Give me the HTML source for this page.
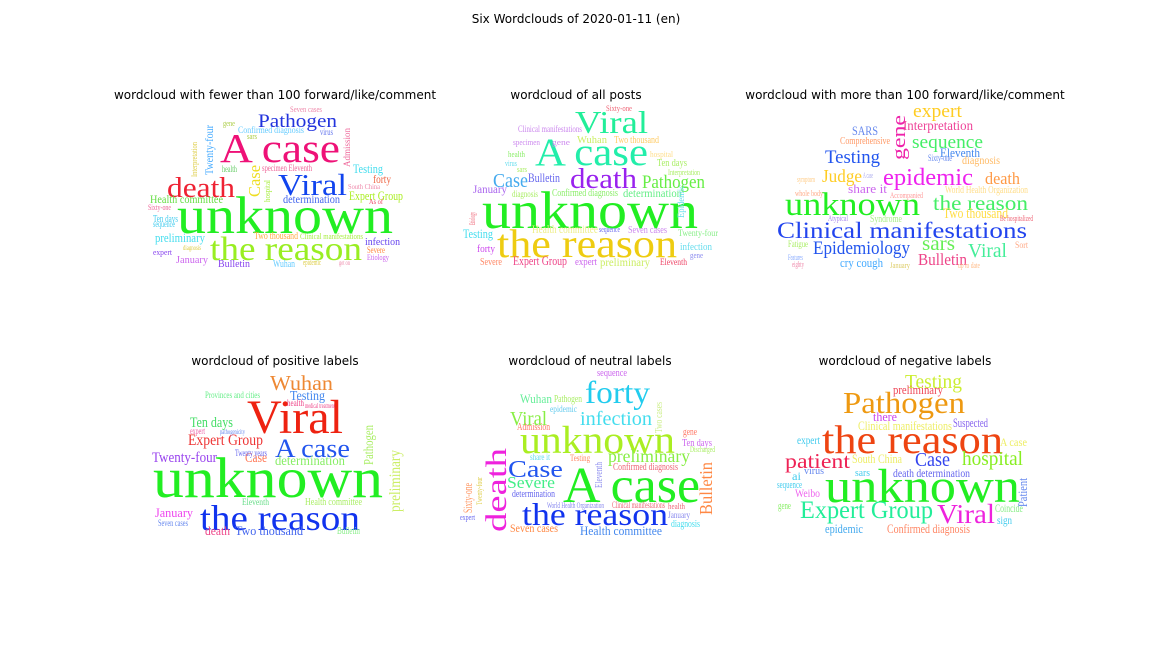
<!DOCTYPE html>
<html><head><meta charset="utf-8">
<style>
html,body{margin:0;padding:0;background:#fff;}
#wrap{position:relative;width:1152px;height:648px;overflow:hidden;}
svg text.w{font-family:"Liberation Serif",serif;}
svg text.t{font-family:"DejaVu Sans","Liberation Sans",sans-serif;font-size:12px;fill:#000;}
</style></head>
<body>
<div id="wrap">
<svg id="svg" width="1152" height="648" viewBox="0 0 1152 648">
<text class="t" x="576" y="23" text-anchor="middle">Six Wordclouds of 2020-01-11 (en)</text>
<text class="t" x="275" y="99" text-anchor="middle">wordcloud with fewer than 100 forward/like/comment</text>
<text class="t" x="576" y="99" text-anchor="middle">wordcloud of all posts</text>
<text class="t" x="905" y="99" text-anchor="middle">wordcloud with more than 100 forward/like/comment</text>
<text class="t" x="275" y="365" text-anchor="middle">wordcloud of positive labels</text>
<text class="t" x="590" y="365" text-anchor="middle">wordcloud of neutral labels</text>
<text class="t" x="905" y="365" text-anchor="middle">wordcloud of negative labels</text>
</svg>
</div>
<script>
// [text, x, baselineY, fontSize, color, width(0=auto), rotated]
const p1 = [
["unknown",177,233,58,"#22ee22",216,0],["the reason",210,260,37,"#99ee22",152,0],["A case",220,162,45,"#ee1177",120,0],
["death",167,197,31,"#ee2233",68,0],["Viral",278,195,33,"#1144ee",69,0],["Pathogen",258,127,21,"#2233dd",79,0],
["Case",260,197,17,"#eedd22",32,1],["Twenty-four",213,175,12,"#44aaff",50,1],["Testing",353,173,13,"#44ddee",30,0],
["forty",373,183,12,"#ee6644",18,0],["Expert Group",349,200,13,"#aaee22",54,0],["determination",283,203,12,"#4466ee",57,0],
["Health committee",150,203,12,"#66dd44",73,0],["preliminary",155,242,13,"#44ddee",50,0],["infection",365,245,11,"#6644ee",35,0],
["January",176,263,11,"#cc66ee",32,0],["Bulletin",218,267,11,"#8844ee",32,0],["Wuhan",273,267,11,"#66ccff",22,0],
["Two thousand",254,239,10,"#ffaa44",44,0],["Confirmed diagnosis",238,133,9,"#66ccff",66,0],["Seven cases",290,112,8,"#ee88aa",32,0],
["specimen Eleventh",262,171,9,"#ee6699",50,0],["Clinical manifestations",300,239,8,"#aaee44",63,0],["Ten days",153,222,10,"#44ccee",25,0],
["sequence",153,227,9,"#44ccee",22,0],["Sixty-one",148,210,8,"#ee6699",23,0],["expert",153,255,8,"#8844ee",19,0],
["Severe",367,253,9,"#ff8844",18,0],["Etiology",367,260,8,"#cc66ee",22,0],["epidemic",303,265,8,"#ddcc44",18,0],
["health",222,172,9,"#66cc66",15,0],["gene",223,126,8,"#aacc44",12,0],["virus",320,135,9,"#6677ee",13,0],
["sars",247,139,8,"#aacc44",10,0],["Admission",350,167,9,"#ee6699",39,1],["Interpretation",197,177,8,"#ddcc44",35,1],
["hospital",270,202,8,"#aaee44",22,1],["South China",348,189,7,"#ee88aa",32,0],["As of",369,204,7,"#ee4466",14,0],
["diagnosis",183,250,7,"#ddcc44",18,0],["get on",339,265,7,"#ee88aa",11,0]
];
const p2 = [
["unknown",482,228,58,"#22ee22",216,0],["the reason",497,257,44,"#eecc11",180,0],["A case",535,165,42,"#22eeaa",113,0],
["Viral",575,133,35,"#22ee99",73,0],["death",570,188,31,"#9922ee",67,0],["Pathogen",642,188,19,"#66ee44",63,0],
["Case",493,187,20,"#44aaee",35,0],["Bulletin",528,182,13,"#6666ee",32,0],["January",473,193,12,"#aa66ee",34,0],
["Confirmed diagnosis",552,196,11,"#88ee66",66,0],["determination",623,197,12,"#66ee88",59,0],["diagnosis",512,197,9,"#aaee66",26,0],
["Health committee",532,233,12,"#eeee88",66,0],["sequence",599,232,8,"#6666ee",21,0],["Seven cases",628,233,10,"#cc88ee",39,0],
["Testing",463,238,13,"#44ddee",30,0],["forty",477,252,11,"#cc44ee",18,0],["Severe",480,265,10,"#ff8866",22,0],
["Expert Group",513,265,13,"#ee4488",54,0],["expert",575,265,10,"#cc66ee",22,0],["preliminary",600,266,12,"#ccee66",50,0],
["Eleventh",660,265,9,"#ee4466",27,0],["Two thousand",614,143,10,"#ffcc66",45,0],["Wuhan",577,143,11,"#ccee66",30,0],
["Clinical manifestations",518,132,9,"#cc88ee",64,0],["Sixty-one",606,111,8,"#ee6677",26,0],["specimen",513,145,8,"#cc88ee",27,0],
["gene",552,145,8,"#cc88ee",18,0],["Ten days",657,166,10,"#aaee66",30,0],["Interpretation",668,175,8,"#aaee66",32,0],
["hospital",650,157,8,"#ffdd88",23,0],["health",508,157,8,"#88ee66",17,0],["virus",505,166,8,"#66ddee",12,0],
["sars",517,172,8,"#aaee66",10,0],["Etiology",475,225,8,"#ee6677",13,1],["Twenty-four",678,236,9,"#88ee88",40,0],
["infection",680,250,10,"#66ddee",32,0],["gene",690,258,8,"#8888ee",13,0],["Epidemic",684,218,9,"#66ddee",33,1]
];
const p3 = [
["Clinical manifestations",777,238,25,"#2244ee",250,0],["unknown",785,215,36,"#22ee22",135,0],["epidemic",883,185,26,"#ee22ee",90,0],
["the reason",933,210,23,"#44ee66",95,0],["Epidemiology",813,254,19,"#2255ee",97,0],["sars",922,250,22,"#66ee55",33,0],
["Viral",968,257,22,"#44ee99",39,0],["Bulletin",918,265,17,"#ee4488",49,0],["Testing",825,163,19,"#2255ee",55,0],
["sequence",912,148,19,"#44ee66",71,0],["gene",905,160,19,"#ee22aa",45,1],["expert",913,117,19,"#ffcc22",49,0],
["Interpretation",903,130,14,"#ee4499",70,0],["SARS",852,135,13,"#6688ee",26,0],["Eleventh",940,157,13,"#4488ee",40,0],
["diagnosis",962,164,12,"#ffbb66",38,0],["Judge",822,182,18,"#ffcc22",40,0],["share it",848,193,13,"#cc66ee",39,0],
["death",985,184,17,"#ff9944",35,0],["World Health Organization",945,193,10,"#ffdd88",83,0],["Two thousand",943,218,15,"#ffdd44",65,0],
["Syndrome",870,222,10,"#aaee88",32,0],["cry cough",840,267,13,"#44aaff",43,0],["Comprehensive",840,144,10,"#ff9966",50,0],
["Sixty-one",928,161,9,"#6688ee",24,0],["Accompanied",890,198,8,"#ff9999",33,0],["Atypical",828,221,8,"#aa88ee",20,0],
["Fatigue",788,247,9,"#aaee66",20,0],["Sort",1015,248,9,"#ffaa88",13,0],["January",890,268,8,"#ddcc66",20,0],
["up to date",958,268,8,"#ffbb88",22,0],["Features",788,260,8,"#88aaff",15,0],["eighty",792,267,8,"#ee88aa",12,0],
["symptom",797,182,8,"#ffcc88",18,0],["whole body",795,196,8,"#ffaa88",28,0],["Be hospitalized",1000,221,8,"#ee6677",33,0],
["A case",863,178,8,"#aaaaee",10,0]
];
const p4 = [
["unknown",153,497,62,"#22ee22",230,0],["the reason",200,530,39,"#1133ee",160,0],["Viral",247,433,52,"#ee2211",96,0],
["A case",275,457,29,"#2255ee",75,0],["Wuhan",270,390,23,"#ee8833",63,0],["Testing",290,400,14,"#4488ee",35,0],
["Ten days",190,427,15,"#44dd66",43,0],["Expert Group",188,445,16,"#ee3333",75,0],["Twenty-four",152,462,15,"#9944ee",65,0],
["Case",245,462,14,"#ff7755",22,0],["determination",275,465,14,"#88ee66",70,0],["Twenty years",235,456,9,"#6666ee",32,0],
["January",155,517,13,"#ee44ee",38,0],["Seven cases",158,526,9,"#6688ee",30,0],["death",205,535,13,"#ee4488",25,0],
["Two thousand",235,535,13,"#4466ee",68,0],["Health committee",305,505,11,"#aaee66",57,0],["Pathogen",373,465,14,"#aaee66",40,1],
["preliminary",400,512,16,"#ccee66",62,1],["Provinces and cities",205,398,9,"#66ee88",55,0],["Bulletin",337,534,10,"#88ee88",23,0],
["expert",190,434,9,"#ee66aa",15,0],["health",287,406,9,"#ee4488",17,0],["Eleventh",242,505,9,"#66dd88",27,0],
["medical treatment",305,408,7,"#ee4488",30,0],["pathogenicity",220,434,7,"#6688ee",25,0]
];
const p5 = [
["A case",563,502,55,"#22ee22",137,0],["unknown",520,453,42,"#aaee22",155,0],["the reason",522,525,35,"#1133ee",146,0],
["death",506,532,32,"#ee22dd",84,1],["forty",585,403,34,"#22ccee",65,0],["infection",580,425,22,"#44ddee",72,0],
["Viral",510,425,22,"#88ee44",37,0],["Case",508,477,26,"#2255ee",55,0],["Severe",507,488,17,"#44ee88",48,0],
["preliminary",608,462,18,"#88ee44",82,0],["Bulletin",712,515,18,"#ff8844",53,1],["Sixty-one",472,513,13,"#ff9966",30,1],
["Twenty-four",482,505,8,"#ddcc44",28,1],["Eleventh",602,488,11,"#8888ee",26,1],["Two cases",662,433,10,"#ccee88",31,1],
["Seven cases",510,532,12,"#ff8844",48,0],["Health committee",580,535,13,"#4488ee",82,0],["determination",512,497,10,"#6666ee",43,0],
["Confirmed diagnosis",613,470,11,"#ee6677",65,0],["Clinical manifestations",612,508,9,"#ee6677",53,0],["World Health Organization",547,508,8,"#8888ee",57,0],
["Wuhan",520,403,13,"#66ee99",32,0],["Pathogen",554,402,11,"#aaee66",28,0],["Admission",517,430,10,"#ff7766",33,0],
["sequence",597,376,10,"#cc66ee",30,0],["Ten days",682,446,11,"#cc66ee",30,0],["gene",683,435,11,"#ff7766",14,0],
["diagnosis",671,527,11,"#44ddee",29,0],["Testing",570,461,9,"#ff8866",20,0],["share it",530,460,9,"#66ddee",20,0],
["January",668,518,9,"#8888ee",22,0],["expert",460,520,8,"#6666ee",15,0],["health",668,509,8,"#ee6677",17,0],
["Discharged",690,452,8,"#aaee66",25,0],["epidemic",550,412,9,"#66ccee",27,0]
];
const p6 = [
["unknown",825,502,52,"#22ee22",195,0],["the reason",822,453,44,"#ee4411",181,0],["Pathogen",843,413,33,"#ee9911",122,0],
["Expert Group",800,518,27,"#22ee99",133,0],["Viral",937,523,30,"#ee22dd",58,0],["patient",785,468,23,"#ee2255",65,0],
["Case",915,466,22,"#3344ee",35,0],["hospital",962,465,22,"#88ee22",61,0],["Testing",905,388,20,"#ccee33",57,0],
["preliminary",893,394,13,"#ee4455",50,0],["there",873,421,13,"#cc44ee",24,0],["Clinical manifestations",858,430,13,"#eeee66",94,0],
["Suspected",953,427,13,"#8866ee",35,0],["expert",797,444,12,"#44ccee",23,0],["A case",1000,446,12,"#eeee66",27,0],
["South China",852,463,13,"#eeee66",50,0],["death determination",893,477,12,"#6666ee",77,0],["ai",792,480,12,"#44ccee",9,0],
["virus",804,474,11,"#6688ee",20,0],["sars",855,476,10,"#44ccee",15,0],["sequence",777,488,11,"#44ccee",25,0],
["Weibo",795,497,12,"#ee66ee",25,0],["gene",778,509,10,"#88ee66",13,0],["Coincide",995,512,12,"#88ee88",28,0],
["sign",997,524,12,"#44ccee",15,0],["epidemic",825,533,13,"#44aaee",38,0],["Confirmed diagnosis",887,533,13,"#ff8866",83,0],
["Patient",1027,507,13,"#6688ee",29,1]
];
const panels = [["fewer",p1],["all",p2],["more",p3],["positive",p4],["neutral",p5],["negative",p6]];
const NS = "http://www.w3.org/2000/svg";
const svg = document.getElementById("svg");
panels.forEach(function(pp){
  const g = document.createElementNS(NS,"g");
  
  
  pp[1].forEach(function(w){
    const t = document.createElementNS(NS,"text");
    t.setAttribute("class","w");
    t.setAttribute("x",w[1]); t.setAttribute("y",w[2]);
    const fs = w[3] > 20 ? w[3]*0.92 : w[3];
    t.setAttribute("font-size",fs); t.setAttribute("fill",w[4]);
    if(w[5]>0){t.setAttribute("textLength",w[5]);t.setAttribute("lengthAdjust","spacingAndGlyphs");}
    if(w[6]){t.setAttribute("transform","rotate(-90 "+w[1]+" "+w[2]+")");}
    t.textContent = w[0];
    
    
    g.appendChild(t);
  });
  svg.appendChild(g);
});
</script>
</body></html>
